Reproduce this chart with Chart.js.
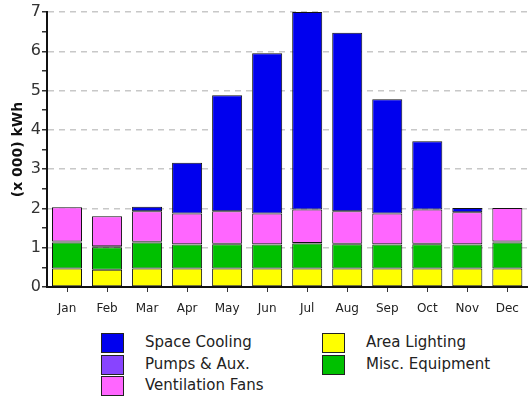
<!DOCTYPE html>
<html>
<head>
<meta charset="utf-8">
<script src="https://cdn.jsdelivr.net/npm/chart.js@4/dist/chart.umd.min.js"></script>
<style>
  body { margin: 0; background: #fff; }
  #wrap { position: relative; width: 529px; height: 400px; }
  #box { position: absolute; left: 0; top: 0; width: 529px; height: 322px; }
  .leg { position: absolute; font-family: "DejaVu Sans", sans-serif; font-size: 15px; color: #222; }
  .leg span.sw { position: absolute; width: 21px; height: 18px; border: 1px solid #222; }
  .leg span.tx { position: absolute; white-space: nowrap; line-height: 20px; }
</style>
</head>
<body>
<div id="wrap">
  <div id="box"><canvas id="chart"></canvas></div>
  <div id="legend"></div>
</div>
<script>
const months = ['Jan', 'Feb', 'Mar', 'Apr', 'May', 'Jun', 'Jul', 'Aug', 'Sep', 'Oct', 'Nov', 'Dec'];

// values in thousands of kWh, stacked bottom to top
const areaLighting  = [0.47, 0.44, 0.47, 0.47, 0.47, 0.47, 0.47, 0.47, 0.47, 0.47, 0.47, 0.47];
const miscEquipment = [0.66, 0.57, 0.66, 0.61, 0.62, 0.61, 0.64, 0.62, 0.61, 0.62, 0.61, 0.66];
const pumpsAux      = [0.03, 0.03, 0.02, 0.01, 0.01, 0.01, 0.01, 0.01, 0.01, 0.01, 0.01, 0.03];
const ventFans      = [0.87, 0.76, 0.78, 0.78, 0.83, 0.78, 0.85, 0.83, 0.78, 0.87, 0.81, 0.85];
const spaceCooling  = [0.00, 0.00, 0.11, 1.29, 2.95, 4.08, 5.03, 4.54, 2.91, 1.74, 0.11, 0.00];

const yTicks = [0, 1, 2, 3, 4, 5, 6, 7];

const series = [
  { label: 'Area Lighting', data: areaLighting, color: '#ffff00' },
  { label: 'Misc. Equipment', data: miscEquipment, color: '#00c000' },
  { label: 'Pumps & Aux.', data: pumpsAux, color: '#8844ff' },
  { label: 'Ventilation Fans', data: ventFans, color: '#ff66ff' },
  { label: 'Space Cooling', data: spaceCooling, color: '#0000ee' }
];

const datasets = series.map(function (s) {
  return {
    label: s.label,
    data: s.data,
    backgroundColor: s.color,
    borderColor: '#111',
    borderWidth: 1,
    borderSkipped: false,
    categoryPercentage: 0.75,
    barPercentage: 1.0
  };
});

new Chart(document.getElementById('chart'), {
  type: 'bar',
  data: { labels: months, datasets: datasets },
  options: {
    responsive: true,
    maintainAspectRatio: false,
    animation: false,
    layout: { padding: { top: 12, right: 1, left: 0, bottom: 0 } },
    plugins: {
      legend: { display: false },
      tooltip: { enabled: false }
    },
    scales: {
      x: {
        stacked: true,
        grid: {
          offset: false,
          drawOnChartArea: false,
          drawTicks: true,
          tickLength: 5,
          tickColor: '#333'
        },
        border: { color: '#111', width: 2 },
        ticks: {
          color: '#222',
          font: { family: 'DejaVu Sans', size: 12 },
          padding: 10,
          maxRotation: 0
        },
        afterFit: function (scale) { scale.height = 35; }
      },
      y: {
        stacked: true,
        min: 0,
        max: 7,
        afterBuildTicks: function (scale) {
          const t = [];
          yTicks.forEach(function (v, i) {
            t.push({ value: v });
            if (i < yTicks.length - 1) t.push({ value: v + 0.5 });
          });
          scale.ticks = t;
        },
        grid: {
          color: function (ctx) {
            if (ctx.tick && yTicks.indexOf(ctx.tick.value) >= 0 && ctx.tick.value > 0) return '#c8c8c8';
            return 'rgba(0,0,0,0)';
          },
          tickColor: '#333',
          tickLength: 5,
          lineWidth: 1.5
        },
        border: { color: '#111', width: 2, dash: [6, 5] },
        ticks: {
          color: '#333',
          font: { family: 'DejaVu Sans', size: 16 },
          padding: 1,
          autoSkip: false,
          callback: function (v) { return yTicks.indexOf(v) >= 0 ? String(v) : ''; }
        },
        title: {
          display: true,
          text: '(x 000) kWh',
          color: '#111',
          font: { family: 'DejaVu Sans', size: 14, weight: 'bold' },
          padding: { top: 10, bottom: 0 }
        },
        afterFit: function (scale) { scale.width = 47; }
      }
    }
  }
});

// two-column legend under the plot
const legendItems = [
  { label: 'Space Cooling', color: '#0000ee', col: 0, row: 0 },
  { label: 'Pumps & Aux.', color: '#8844ff', col: 0, row: 1 },
  { label: 'Ventilation Fans', color: '#ff66ff', col: 0, row: 2 },
  { label: 'Area Lighting', color: '#ffff00', col: 1, row: 0 },
  { label: 'Misc. Equipment', color: '#00c000', col: 1, row: 1 }
];
const legend = document.getElementById('legend');
legendItems.forEach(function (it) {
  const x = it.col === 0 ? 101 : 322;
  const y = 333 + it.row * 21.5;
  const d = document.createElement('div');
  d.className = 'leg';
  d.style.left = x + 'px';
  d.style.top = y + 'px';
  d.innerHTML = '<span class="sw" style="left:0;top:0;background:' + it.color + '"></span>' +
    '<span class="tx" style="left:44px;top:-1px">' + it.label + '</span>';
  legend.appendChild(d);
});
</script>
</body>
</html>
